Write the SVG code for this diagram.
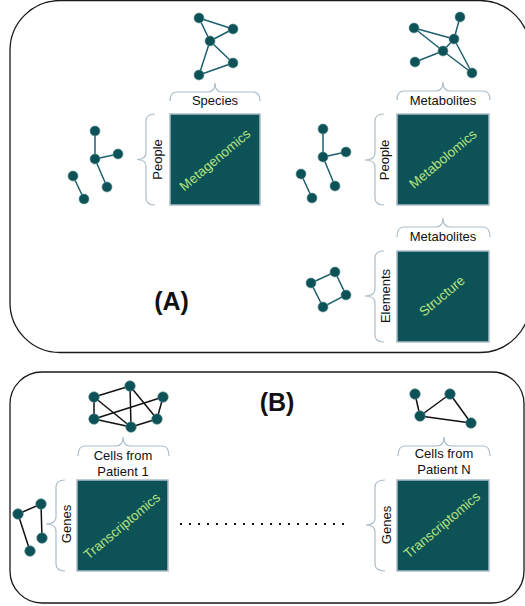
<svg xmlns="http://www.w3.org/2000/svg" width="525" height="606" viewBox="0 0 525 606">
<style>
.panel{fill:#fff;stroke:#1a1a1a;stroke-width:1.3}
.mat{fill:#0d5257;stroke:#a9bfca;stroke-width:1.5}
.brace{fill:none;stroke:#aabdc9;stroke-width:1.2}
.lbl{font-family:"Liberation Sans",Arial,sans-serif;font-size:13px;fill:#111;text-anchor:middle}
.mlbl{font-family:"Liberation Sans",Arial,sans-serif;font-size:13.5px;fill:#b4e27e;text-anchor:middle}
.big{font-family:"Liberation Sans",Arial,sans-serif;font-size:25px;font-weight:bold;fill:#111;text-anchor:middle}
.n{fill:#0d5257;stroke:#5d8f94;stroke-width:0.6}
.ea{stroke:#1e5f6e;stroke-width:1.5;fill:none}
.eb{stroke:#111;stroke-width:1.5;fill:none}
</style>

<rect class="panel" x="10" y="0.5" width="520" height="352" rx="50"/>
<rect class="panel" x="10" y="372" width="514" height="231" rx="32"/>
<text class="big" x="171.5" y="310">(A)</text>
<text class="big" x="277" y="411">(B)</text>

<g id="connectors">
  <!-- species network -->
  <path class="ea" d="M199,18 L233,29 M199,18 L210,41 M233,29 L210,41 M210,41 L199,75 M199,75 L233,63 M233,63 L210,41"/>
  <!-- people network 1 -->
  <path class="ea" d="M95,131 L95,159 M95,159 L118,154 M95,159 L107,187 M73,176 L84,199"/>
  <!-- metabolites network -->
  <path class="ea" d="M414,28 L454,39 M414,28 L443,51 M460,17 L454,39 M454,39 L443,51 M443,51 L415,62 M454,39 L472,73 M443,51 L472,73"/>
  <!-- people network 2 -->
  <path class="ea" d="M323,129 L323,157 M323,157 L346,152 M323,157 L335,186 M301,174 L312,198"/>
  <!-- elements network -->
  <path class="ea" d="M311,283 L335,272 L346,295 L323,307 Z"/>
  <!-- cells patient 1 -->
  <path class="eb" d="M94,397 L130,386 M94,397 L94,419 M94,397 L131,427 M130,386 L131,427 M130,386 L157,419 M163,397 L94,419 M163,397 L157,419 M94,419 L131,427 M131,427 L157,419"/>
  <!-- genes network 1 -->
  <path class="eb" d="M18,514 L41,504 M41,504 L42,538 M18,514 L30,551"/>
  <!-- cells patient N -->
  <path class="eb" d="M415,394 L420,416 M420,416 L450,394 M450,394 L471,423 M420,416 L471,423"/>
  <!-- dotted ellipsis -->
  <line x1="180" y1="524" x2="347" y2="524" stroke="#111" stroke-width="2" stroke-dasharray="2 7"/>
</g>

<g id="net-species">
  <circle class="n" cx="199" cy="18" r="5"/><circle class="n" cx="233" cy="29" r="5"/><circle class="n" cx="210" cy="41" r="5"/><circle class="n" cx="233" cy="63" r="5"/><circle class="n" cx="199" cy="75" r="5"/>
</g>
<g id="net-people1">
  <circle class="n" cx="95" cy="131" r="5"/><circle class="n" cx="95" cy="159" r="5"/><circle class="n" cx="118" cy="154" r="5"/><circle class="n" cx="107" cy="187" r="5"/><circle class="n" cx="73" cy="176" r="5"/><circle class="n" cx="84" cy="199" r="5"/>
</g>
<g id="net-metabolites">
  <circle class="n" cx="414" cy="28" r="5"/><circle class="n" cx="460" cy="17" r="5"/><circle class="n" cx="454" cy="39" r="5"/><circle class="n" cx="443" cy="51" r="5"/><circle class="n" cx="415" cy="62" r="5"/><circle class="n" cx="472" cy="73" r="5"/>
</g>
<g id="net-people2">
  <circle class="n" cx="323" cy="129" r="5"/><circle class="n" cx="323" cy="157" r="5"/><circle class="n" cx="346" cy="152" r="5"/><circle class="n" cx="335" cy="186" r="5"/><circle class="n" cx="301" cy="174" r="5"/><circle class="n" cx="312" cy="198" r="5"/>
</g>
<g id="net-elements">
  <circle class="n" cx="335" cy="272" r="5"/><circle class="n" cx="311" cy="283" r="5"/><circle class="n" cx="346" cy="295" r="5"/><circle class="n" cx="323" cy="307" r="5"/>
</g>
<g id="net-cells1">
  <circle class="n" cx="94" cy="397" r="5.3"/><circle class="n" cx="130" cy="386" r="5.3"/><circle class="n" cx="163" cy="397" r="5.3"/><circle class="n" cx="94" cy="419" r="5.3"/><circle class="n" cx="131" cy="427" r="5.3"/><circle class="n" cx="157" cy="419" r="5.3"/>
</g>
<g id="net-genes1">
  <circle class="n" cx="18" cy="514" r="5.3"/><circle class="n" cx="41" cy="504" r="5.3"/><circle class="n" cx="42" cy="538" r="5.3"/><circle class="n" cx="30" cy="551" r="5.3"/>
</g>
<g id="net-cellsN">
  <circle class="n" cx="415" cy="394" r="5.3"/><circle class="n" cx="450" cy="394" r="5.3"/><circle class="n" cx="420" cy="416" r="5.3"/><circle class="n" cx="471" cy="423" r="5.3"/>
</g>

<g id="metagenomics">
  <path class="brace" d="M170,101 Q170,92 177,92 H208 Q215,92 215,83 Q215,92 222,92 H253 Q260,92 260,101"/>
  <text class="lbl" x="215" y="104.5">Species</text>
  <path class="brace" d="M155,114 Q146,114 146,121 V152.5 Q146,159.5 137,159.5 Q146,159.5 146,166.5 V198 Q146,205 155,205"/>
  <text class="lbl" transform="translate(161.5,159.5) rotate(-90)">People</text>
  <rect class="mat" x="170" y="114" width="90" height="91"/>
  <text class="mlbl" transform="translate(215,160) rotate(-40)" y="4.5">Metagenomics</text>
</g>

<g id="metabolomics">
  <path class="brace" d="M397,100 Q397,91 404,91 H436 Q443,91 443,82 Q443,91 450,91 H483 Q490,91 490,100"/>
  <text class="lbl" x="443" y="105">Metabolites</text>
  <path class="brace" d="M384,114 Q375,114 375,121 V153 Q375,160 365,160 Q375,160 375,167 V198 Q375,205 384,205"/>
  <text class="lbl" transform="translate(388.5,160) rotate(-90)">People</text>
  <rect class="mat" x="397" y="114" width="92" height="91"/>
  <text class="mlbl" transform="translate(443,159) rotate(-40)" y="4.5">Metabolomics</text>
</g>

<g id="structure">
  <path class="brace" d="M397,237 Q397,227 404,227 H436 Q443,227 443,218 Q443,227 450,227 H483 Q490,227 490,237"/>
  <text class="lbl" x="443" y="241">Metabolites</text>
  <path class="brace" d="M384,251 Q375,251 375,258 V289 Q375,296 365,296 Q375,296 375,303 V335 Q375,342 384,342"/>
  <text class="lbl" transform="translate(390,296) rotate(-90)">Elements</text>
  <rect class="mat" x="397" y="251" width="92" height="91"/>
  <text class="mlbl" transform="translate(442,296) rotate(-40)" y="4.5">Structure</text>
</g>

<g id="transcriptomics-1">
  <path class="brace" d="M78,456 Q78,446 85,446 H116 Q123,446 123,437 Q123,446 130,446 H162 Q169,446 169,456"/>
  <text class="lbl" x="123" y="460">Cells from</text>
  <text class="lbl" x="123" y="475.5">Patient 1</text>
  <path class="brace" d="M65,480 Q56,480 56,487 V517 Q56,524 46,524 Q56,524 56,531 V564 Q56,571 65,571"/>
  <text class="lbl" transform="translate(70.5,524) rotate(-90)">Genes</text>
  <rect class="mat" x="77" y="480" width="91" height="91"/>
  <text class="mlbl" transform="translate(122,526) rotate(-40)" y="4.5">Transcriptomics</text>
</g>

<g id="transcriptomics-N">
  <path class="brace" d="M398,456 Q398,446 405,446 H437 Q444,446 444,437 Q444,446 451,446 H483 Q490,446 490,456"/>
  <text class="lbl" x="444" y="458">Cells from</text>
  <text class="lbl" x="444" y="474">Patient N</text>
  <path class="brace" d="M385,480 Q375,480 375,487 V518 Q375,525 366,525 Q375,525 375,532 V564 Q375,571 385,571"/>
  <text class="lbl" transform="translate(390.5,525) rotate(-90)">Genes</text>
  <rect class="mat" x="397" y="480" width="92" height="91"/>
  <text class="mlbl" transform="translate(442,525) rotate(-40)" y="4.5">Transcriptomics</text>
</g>
</svg>
